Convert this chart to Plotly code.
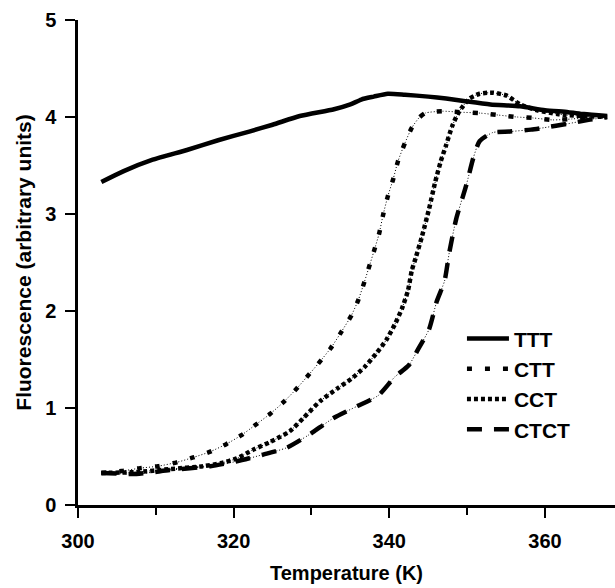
import plotly.graph_objects as go

# ---- data ----
ttt_T = [303, 305.8, 309.6, 314, 318, 322, 325, 328.5, 332.9, 335, 336.4, 338, 339.8, 342, 345,
         347.3, 350, 353, 356.8, 360, 363, 365, 368]
ttt_y = [3.33, 3.44, 3.56, 3.66, 3.76, 3.85, 3.92, 4.01, 4.08, 4.13, 4.18, 4.21, 4.24, 4.23, 4.21,
         4.19, 4.16, 4.13, 4.11, 4.07, 4.05, 4.03, 4.01]

ctt_T = [303, 305.6, 308, 310.3, 312.7, 314.8, 317, 319.1, 321, 322.7, 324.7, 326.4, 328.1,
         329.4, 330.9, 332.5, 333.8, 335.1, 336, 336.8, 337.5, 338, 338.7, 339.2, 339.8, 340.5,
         341.1, 342, 342.9, 343.8, 344.6, 346.8, 349, 351.7, 354, 356.4, 358.5, 361, 363.5,
         366, 368]
ctt_y = [0.33, 0.35, 0.38, 0.40, 0.44, 0.49, 0.55, 0.63, 0.72, 0.82, 0.94, 1.06, 1.20,
         1.32, 1.46, 1.62, 1.78, 1.95, 2.11, 2.30, 2.48, 2.61, 2.80, 2.99, 3.18, 3.36,
         3.54, 3.73, 3.89, 3.99, 4.04, 4.06, 4.05, 4.04, 4.02, 4.00, 3.99, 3.97, 3.98,
         4.00, 4.01]

cct_T = [303, 307.5, 311.8, 316.1, 318.3, 320.4, 322.5, 324.7, 327.2, 329.0, 331.1, 333.3,
         335.1, 336.8, 338.3, 339.6, 340.7, 341.6, 342.4, 342.9, 343.4, 344.2, 345.1, 345.9,
         346.6, 347.3, 348.1, 349.0, 350.3, 351.6, 353.3, 355.1, 356.8, 359, 361.6, 364.7, 368]
cct_y = [0.33, 0.34, 0.37, 0.40, 0.43, 0.48, 0.57, 0.65, 0.76, 0.90, 1.07, 1.20,
         1.30, 1.42, 1.56, 1.70, 1.86, 2.02, 2.21, 2.42, 2.55, 2.77, 3.05, 3.33,
         3.54, 3.71, 3.91, 4.06, 4.19, 4.24, 4.25, 4.22, 4.13, 4.07, 4.03, 4.01, 4.00]

ctct_T = [303, 307.5, 311.8, 317, 320.4, 323.8, 326.8, 329.6, 332.9, 335.9, 338.6, 340.7,
          342.5, 343.8, 345.1, 346.1, 347.1, 347.7, 348.6, 349.9, 350.8, 351.6, 353.3, 355.5,
          358.2, 359.9, 362.9, 365.6, 368]
ctct_y = [0.33, 0.32, 0.36, 0.40, 0.45, 0.52, 0.59, 0.72, 0.90, 1.02, 1.13, 1.32,
          1.44, 1.62, 1.81, 2.10, 2.31, 2.60, 2.95, 3.30, 3.58, 3.75, 3.84, 3.85,
          3.87, 3.89, 3.93, 3.97, 4.00]

series_names = ["TTT", "CTT", "CCT", "CTCT"]

FONT = "Liberation Sans, Arial, sans-serif"

fig = go.Figure()

# thin connecting lines under the dashed series
for T, y in [(ctt_T, ctt_y), (cct_T, cct_y), (ctct_T, ctct_y)]:
    fig.add_trace(go.Scatter(x=T, y=y, mode="lines", showlegend=False, hoverinfo="skip",
                             line=dict(color="black", width=1, dash="1px,2px", shape="spline",
                                       smoothing=0.6)))

styles = {
    "TTT": dict(dash="solid", width=4.5),
    "CTT": dict(dash="5px,13px", width=4.5),
    "CCT": dict(dash="4px,3px", width=4.5),
    "CTCT": dict(dash="15px,12px", width=4.5),
}
for name, T, y in [("TTT", ttt_T, ttt_y), ("CTT", ctt_T, ctt_y),
                   ("CCT", cct_T, cct_y), ("CTCT", ctct_T, ctct_y)]:
    fig.add_trace(go.Scatter(x=T, y=y, mode="lines", name=name,
                             line=dict(color="black", shape="spline", smoothing=0.6,
                                       **styles[name])))

fig.update_layout(
    width=615, height=588,
    margin=dict(l=78, r=0, t=20, b=83),
    paper_bgcolor="white", plot_bgcolor="white",
    font=dict(family=FONT, size=20, color="black", weight="bold"),
    legend=dict(x=0.715, y=0.385, xanchor="left", yanchor="top",
                bgcolor="rgba(0,0,0,0)", font=dict(size=21, weight="bold"),
                tracegroupgap=0, itemwidth=42),
    showlegend=True,
)
fig.update_xaxes(
    range=[300, 369], tickmode="array", tickvals=[300, 320, 340, 360],
    showgrid=False, zeroline=False, showline=True, linecolor="black", linewidth=2.5,
    ticks="outside", ticklen=10, tickwidth=2, tickcolor="black",
    minor=dict(tickvals=[310, 330, 350], ticks="outside", ticklen=7, tickwidth=2, tickcolor="black"),
    tickfont=dict(size=20, weight="bold"), ticklabelstandoff=6,
    title=dict(text="Temperature (K)", font=dict(size=20, weight="bold"), standoff=16),
)
fig.update_yaxes(
    range=[0, 5], tickvals=[0, 1, 2, 3, 4, 5],
    showgrid=False, zeroline=False, showline=True, linecolor="black", linewidth=2.5,
    ticks="outside", ticklen=10, tickwidth=2, tickcolor="black",
    tickfont=dict(size=20, weight="bold"), ticklabelstandoff=5,
    title=dict(text="Fluorescence (arbitrary units)", font=dict(size=21, weight="bold"), standoff=8),
)

fig.write_html("out.html")
